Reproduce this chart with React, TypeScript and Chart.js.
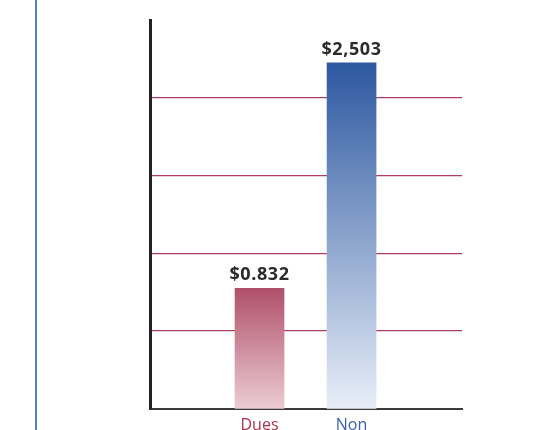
import React, { useEffect, useRef } from "react";
import { Chart, registerables } from "chart.js";

Chart.register(...registerables);

const categories = ["Dues", "Non"];
const values = [1.55, 4.45];
const valueLabels = ["$0.832", "$2,503"];
const labelColors = ["#a8324f", "#3a62a8"];
const topColors = ["#b0506a", "#2d58a0"];
const bottomColors = ["#ecccd3", "#e8eef8"];
const yMax = 5;

const valueLabelPlugin = {
  id: "valueLabels",
  afterDatasetsDraw(chart: any) {
    const ctx = chart.ctx;
    const meta = chart.getDatasetMeta(0);
    ctx.save();
    ctx.font = "bold 18px 'Open Sans'";
    try { (ctx as any).letterSpacing = "0.6px"; } catch (e) {}
    ctx.fillStyle = "#2b2b2b";
    ctx.textAlign = "center";
    ctx.textBaseline = "alphabetic";
    meta.data.forEach((bar: any, i: number) => {
      ctx.fillText(valueLabels[i], bar.x, bar.y - 8);
    });
    ctx.restore();
  },
};

export default function App() {
  const ref = useRef<HTMLCanvasElement | null>(null);
  useEffect(() => {
    if (!ref.current) return;
    const chart = new Chart(ref.current, {
      type: "bar",
      data: {
        datasets: [
          {
            data: values.map((v, i) => ({ x: i, y: v })),
            barThickness: 49,
            backgroundColor: (c: any) => {
              const ch = c.chart;
              const ys = ch.scales && ch.scales.y;
              const i = c.dataIndex;
              if (!ys || i === undefined) return topColors[0];
              const top = ys.getPixelForValue(values[i]);
              const bottom = ys.getPixelForValue(0);
              if (!isFinite(top) || !isFinite(bottom) || top === bottom) return topColors[i];
              const g = ch.ctx.createLinearGradient(0, top, 0, bottom);
              g.addColorStop(0, topColors[i]);
              g.addColorStop(1, bottomColors[i]);
              return g;
            },
          },
        ],
      },
      options: {
        animation: false,
        responsive: false,
        maintainAspectRatio: false,
        layout: { padding: { left: 150, top: 20, right: 98, bottom: 0 } },
        plugins: { legend: { display: false }, tooltip: { enabled: false } },
        scales: {
          x: {
            type: "linear",
            offset: false,
            min: -1.19,
            max: 2.2,
            afterBuildTicks: (scale: any) => {
              scale.ticks = categories.map((_, i) => ({ value: i }));
            },
            grid: { display: false, drawTicks: false },
            border: { display: true, color: "#3a3a3a", width: 2 },
            ticks: {
              callback: (v: any) => categories[v as number] ?? "",
              color: (c: any) => labelColors[c.index] || "#333",
              font: { family: "'Open Sans'", size: 16 },
              padding: 7,
            },
          },
          y: {
            min: 0,
            max: yMax,
            afterBuildTicks: (scale: any) => {
              scale.ticks = scale.ticks.filter((t: any) => t.value > 0 && t.value < yMax);
            },
            ticks: { display: false, stepSize: 1 },
            grid: {
              drawTicks: false,
              tickLength: 0,
              color: "#b03c60",
              lineWidth: 1.2,
            },
            border: { display: true, color: "#222222", width: 3 },
          },
        },
      },
      plugins: [valueLabelPlugin],
    });
    return () => chart.destroy();
  }, []);
  return (
    <div style={{ position: "fixed", left: 0, top: 0, width: 560, height: 442, background: "#fff" }}>
      <div style={{ position: "absolute", left: 35, top: 0, width: 2, height: 442, background: "#5a7ec4" }} />
      <canvas ref={ref} width={560} height={442} style={{ position: "absolute", left: 0, top: 0 }} />
    </div>
  );
}
